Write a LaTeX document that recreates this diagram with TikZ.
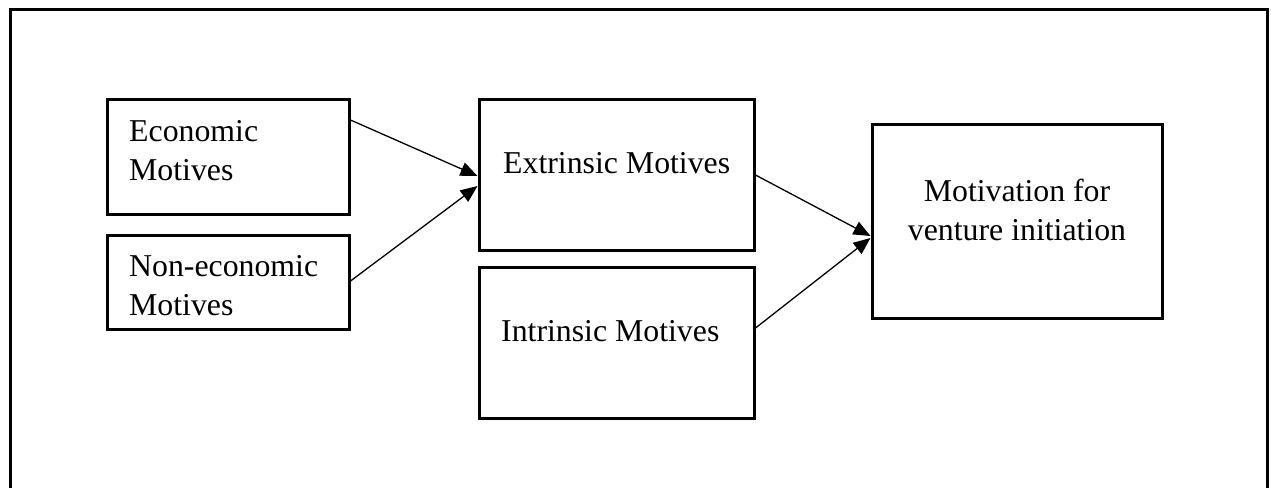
\documentclass[tikz,border=0pt]{standalone}
\usepackage{fontspec}
\setmainfont{Liberation Serif}
\usetikzlibrary{arrows.meta,shapes}

\begin{document}
\begin{tikzpicture}[x=1pt,y=-1pt,auto]
                \tikzstyle{motivebox}=[draw,line width=3pt,rectangle,inner sep=0pt]
                \tikzstyle{motivetext}=[inner sep=0pt,align=left,font=\fontsize{31.8}{38.5}\selectfont]
                \tikzstyle{myarrows}=[line width=1.3pt,-{Triangle[length=17pt,width=14pt]}]
                
                \useasboundingbox (0,0) rectangle (1271,487);
                \clip (0,0) rectangle (1271,487);
                \draw[line width=3pt] (10.5,10) rectangle (1267.5,520);
                
                \node[motivebox,minimum width=242pt,minimum height=115pt] (eco) at (228,156.5) {};
                \node[motivebox,minimum width=242pt,minimum height=94pt] (noneco) at (228,282) {};
                \node[motivebox,minimum width=275pt,minimum height=151pt] (ext) at (616.5,174.5) {};
                \node[motivebox,minimum width=275pt,minimum height=151pt] (int) at (616.5,342.5) {};
                \node[motivebox,minimum width=290pt,minimum height=194pt] (mot) at (1017,221) {};
                
                % two-line texts sit on the baseline of their last line
                \node[motivetext,anchor=base west] (ecotext) at (129,180) {Economic\\Motives};
                \node[motivetext,anchor=base west] (nonecotext) at (129,315) {Non-economic\\Motives};
                \node[motivetext,anchor=base west] (exttext) at (503,173) {Extrinsic Motives};
                \node[motivetext,anchor=base west] (inttext) at (501,341) {Intrinsic Motives};
                \node[motivetext,align=center,anchor=base] (mottext) at (1017,240) {Motivation for\\venture initiation};
                
                \draw[myarrows] ([yshift=36.5pt]eco.east) -- ([yshift=-1.5pt]ext.west);
                \draw[myarrows] ([yshift=1pt]noneco.east) -- ([yshift=-11.5pt]ext.west);
                \draw[myarrows] ([yshift=-0.5pt]ext.east) -- ([yshift=-15pt]mot.west);
                \draw[myarrows] ([yshift=14.5pt]int.east) -- ([yshift=-17pt]mot.west);
\end{tikzpicture}
\end{document}
